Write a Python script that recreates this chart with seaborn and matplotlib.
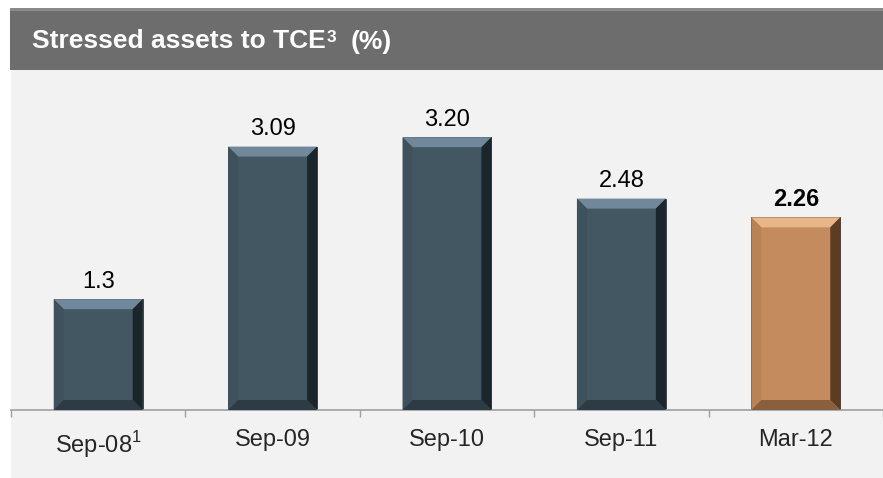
"""
Stressed assets to TCE bar chart
"""
import numpy as np
import pandas as pd
import matplotlib
matplotlib.use('Agg')
import matplotlib.pyplot as plt
from matplotlib.patches import Rectangle, Polygon
import seaborn as sns

# Data
periods = ['Sep-08', 'Sep-09', 'Sep-10', 'Sep-11', 'Mar-12']
tick_labels = ['Sep-08$^{1}$', 'Sep-09', 'Sep-10', 'Sep-11', 'Mar-12']
ratios = [1.3, 3.09, 3.20, 2.48, 2.26]
value_labels = ['1.3', '3.09', '3.20', '2.48', '2.26']
highlight = [False, False, False, False, True]

title_main = 'Stressed assets to TCE'
title_note = '3'
title_unit = '(%)'

# Colours: body, top bevel, left bevel, right bevel, bottom bevel
dark_shades = ['#435763', '#71879a', '#3e515c', '#1b262c', '#2c3b44']
gold_shades = ['#c48c5e', '#e9b68a', '#b98356', '#5c3c22', '#8a5f3e']

sns.set_theme(style='white')
plt.rcParams['font.family'] = ['Liberation Sans', 'DejaVu Sans']
plt.rcParams['mathtext.fontset'] = 'custom'
plt.rcParams['mathtext.rm'] = 'Liberation Sans'
plt.rcParams['mathtext.bf'] = 'Liberation Sans:bold'

df = pd.DataFrame({'period': periods, 'ratio': ratios})
palette = {p: (gold_shades[0] if h else dark_shades[0]) for p, h in zip(periods, highlight)}

fig = plt.figure(figsize=(8.83, 4.78), dpi=100, facecolor='white')

# Panel background and header band
W, H = 883, 478
fig.patches.append(Rectangle((11 / W, 0), 1, 408 / H, transform=fig.transFigure,
                             facecolor='#f2f2f2', edgecolor='none', zorder=0))
fig.patches.append(Rectangle((10 / W, (H - 70) / H), 1, 62 / H, transform=fig.transFigure,
                             facecolor='#6d6d6d', edgecolor='none', zorder=1))
fig.patches.append(Rectangle((10 / W, (H - 11) / H), 1, 3 / H, transform=fig.transFigure,
                             facecolor='#8a8a8a', edgecolor='none', zorder=1))

# Header title in three pieces (main text, footnote mark, unit)
renderer = fig.canvas.get_renderer()
t1 = fig.text(32 / W, (H - 48.5) / H, title_main, color='white', fontsize=19,
              fontweight='bold', va='baseline', ha='left')
x_end = t1.get_window_extent(renderer).x1
t2 = fig.text((x_end + 1) / W, (H - 41.5) / H, title_note, color='white', fontsize=12.5,
              fontweight='bold', va='baseline', ha='left')
x_end = t2.get_window_extent(renderer).x1
fig.text((x_end + 14) / W, (H - 48.5) / H, title_unit, color='white', fontsize=19,
         fontweight='bold', va='baseline', ha='left')

ax = fig.add_axes([11 / W, (H - 410) / H, 1 - 11 / W, 341 / H])
ax.set_facecolor('none')
ax.set_zorder(5)

sns.barplot(data=df, x='period', y='ratio', hue='period', palette=palette,
            legend=False, width=0.51, saturation=1, ax=ax, zorder=2)

ax.set_xlim(-0.5, len(periods) - 0.5)
ax.set_ylim(0, 4)

# Bevel decoration built from each bar's own geometry
bx = 10 * len(periods) / 872
by = 10 * 4 / 341
for patch, h in zip(list(ax.patches), highlight):
    shades = gold_shades if h else dark_shades
    x0 = patch.get_x()
    x1 = x0 + patch.get_width()
    top = patch.get_height()
    patch.set_edgecolor('#333333')
    patch.set_linewidth(0.6)
    faces = [
        ([(x0, top), (x1, top), (x1 - bx, top - by), (x0 + bx, top - by)], shades[1]),
        ([(x0, 0), (x0, top), (x0 + bx, top - by), (x0 + bx, by)], shades[2]),
        ([(x1, top), (x1, 0), (x1 - bx, by), (x1 - bx, top - by)], shades[3]),
        ([(x0, 0), (x1, 0), (x1 - bx, by), (x0 + bx, by)], shades[4]),
    ]
    for pts, c in faces:
        ax.add_patch(Polygon(pts, closed=True, facecolor=c, edgecolor='none', zorder=3))

# Value labels
for i, (v, lab, h) in enumerate(zip(ratios, value_labels, highlight)):
    ax.annotate(lab, (i, v), xytext=(0, 8), textcoords='offset points',
                ha='center', va='baseline', fontsize=17,
                fontweight='bold' if h else 'normal', color='black')

# Axis styling
for side in ['top', 'right', 'left']:
    ax.spines[side].set_visible(False)
ax.spines['bottom'].set_color('#a0a0a0')
ax.spines['bottom'].set_linewidth(1.2)
ax.set_yticks([])
ax.set_xlabel('')
ax.set_ylabel('')
ax.set_xticks(range(len(periods)))
ax.set_xticklabels(tick_labels, fontsize=17)
ax.tick_params(axis='x', which='major', length=0, pad=14)
ax.set_xticks(np.arange(-0.5, len(periods), 1.0), minor=True)
ax.tick_params(axis='x', which='minor', length=5, width=1, color='#a0a0a0', bottom=True)

plt.savefig('out.png', dpi=100, facecolor='white')
